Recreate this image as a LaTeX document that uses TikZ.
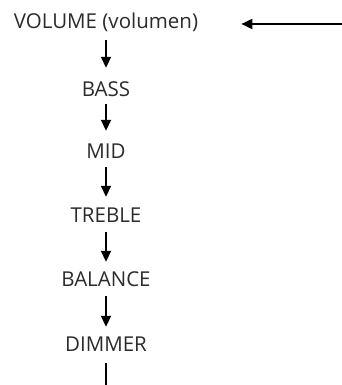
\documentclass[tikz,border=0pt]{standalone}
\usepackage{fontspec}
\setmainfont{Open Sans}
\usepackage{xcolor}
\usetikzlibrary{arrows.meta}
\definecolor{ktext}{HTML}{2B2B2B}

\tikzset{
  menuitem/.style={font=\fontsize{20.5}{23}\selectfont, text=ktext, anchor=base,
    inner sep=0pt, text height=14pt, text depth=0pt},
  flow/.style={line width=1.8pt, -{Triangle[length=11pt, width=10pt]}}
}

\begin{document}
\begin{tikzpicture}[x=1pt, y=1pt]
\useasboundingbox (0,0) rectangle (342,-385);
\node[menuitem] (volume)  at (106,-29)  {VOLUME (volumen)};
\node[menuitem] (bass)    at (106,-97)  {BASS};
\node[menuitem] (mid)     at (106,-158) {MID};
\node[menuitem] (treble)  at (106,-222) {TREBLE};
\node[menuitem] (balance) at (106,-286) {BALANCE};
\node[menuitem] (dimmer)  at (106,-351) {DIMMER};
\coordinate (input) at (342,-24);
\coordinate (next)  at (106,-385);
% input into the menu
\draw[flow, shorten >=43pt] (input) -- (volume.east |- input);
% menu order
\draw[flow, shorten <=11pt, shorten >=15pt] (volume.south) -- (bass.north);
\draw[flow, shorten <=7pt, shorten >=13pt] (bass.south) -- (mid.north);
\draw[flow, shorten <=9pt, shorten >=11pt] (mid.south) -- (treble.north);
\draw[flow, shorten <=10pt, shorten >=10pt] (treble.south) -- (balance.north);
\draw[flow, shorten <=10pt, shorten >=10pt] (balance.south) -- (dimmer.north);
\draw[line width=1.8pt, shorten <=12pt] (dimmer.south) -- (next);
\end{tikzpicture}
\end{document}
